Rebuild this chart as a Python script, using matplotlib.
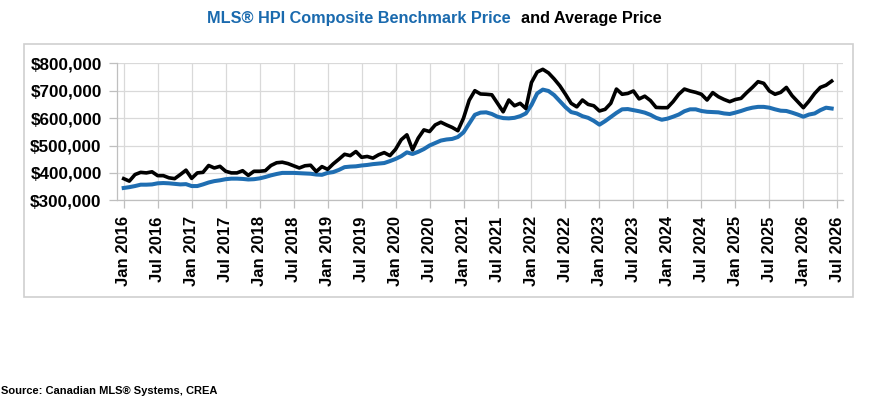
import numpy as np
import pandas as pd
import matplotlib
matplotlib.use("Agg")
import matplotlib.pyplot as plt
from matplotlib.patches import Rectangle

plt.rcParams['font.family'] = ['Liberation Sans', 'DejaVu Sans']

# Monthly values, Jan 2016 - Jun 2026
average_price = [
    379, 370, 394, 402, 400, 404, 390, 390, 382, 379, 394, 410,
    380, 400, 402, 427, 418, 424, 406, 400, 400, 408, 391, 406,
    406, 408, 427, 437, 439, 434, 426, 418, 426, 428, 405, 423,
    413, 433, 450, 468, 463, 478, 457, 460, 454, 466, 474, 463,
    486, 521, 539, 484, 527, 557, 551, 575, 585, 575, 566, 554,
    600, 665, 700, 688, 687, 685, 654, 623, 666, 645, 654, 635,
    730, 768, 778, 765, 743, 718, 687, 654, 641, 666, 650, 645,
    626, 632, 654, 706, 687, 690, 699, 670, 680, 664, 639, 638,
    638, 660, 687, 706, 699, 694, 687, 666, 693, 678, 668, 660,
    668, 672, 693, 712, 733, 727, 699, 687, 694, 712, 682, 660,
    638, 662, 690, 712, 720, 735,
]
hpi_benchmark = [
    345, 348, 352, 357, 357, 358, 362, 363, 362, 360, 358, 359,
    352, 352, 358, 365, 370, 373, 377, 379, 379, 378, 376, 377,
    380, 385, 391, 396, 400, 400, 400, 399, 398, 397, 394, 393,
    400, 403, 411, 421, 423, 424, 427, 429, 432, 434, 436, 443,
    451, 461, 475, 469, 477, 487, 500, 509, 518, 522, 524, 531,
    548, 580, 612, 620, 621, 615, 605, 600, 599, 601, 607, 617,
    648, 690, 704, 699, 684, 662, 640, 622, 617, 607, 601, 590,
    576, 589, 604, 619, 632, 633, 629, 625, 620, 612, 601, 594,
    598, 605, 613, 625, 632, 632, 626, 623, 622, 621, 617, 615,
    620, 626, 633, 638, 641, 641, 638, 632, 627, 626, 620, 613,
    605, 613, 617, 629, 638, 635,
]
average_price = np.array(average_price) * 1000
hpi_benchmark = np.array(hpi_benchmark) * 1000

tick_years = list(range(2016, 2027))
tick_labels = [f"{m} {y}" for y in tick_years for m in ("Jan", "Jul")]
y_ticks = [300000, 400000, 500000, 600000, 700000, 800000]

W, H = 878, 397
fig = plt.figure(figsize=(W / 100, H / 100), dpi=100)

# outer frame
fig.add_artist(Rectangle((24 / W, 1 - 297 / H), (853 - 24) / W, (297 - 44) / H,
                         transform=fig.transFigure, fill=False,
                         ec='#cfcfcf', lw=1.2))

ax = fig.add_axes([117 / W, 1 - 200.3 / H, (843 - 117) / W, (200.3 - 63.3) / H])

x = np.arange(len(average_price))
ax.plot(x, hpi_benchmark, color='#1f6eb2', lw=2.9, solid_joinstyle='round', zorder=3)
ax.plot(x, average_price, color='#000000', lw=2.6, solid_joinstyle='round', zorder=4)

ax.set_xlim(-1.18, 127.0)
ax.set_ylim(300000, 800000)
ax.set_yticks(y_ticks)
ax.set_yticklabels([f"${v:,.0f}" for v in y_ticks], fontsize=12.3, fontweight='bold')
ax.set_xticks(np.arange(0, 6 * len(tick_labels), 6))
ax.set_xticklabels(tick_labels, rotation=90, fontsize=12, fontweight='bold')

ax.grid(True, color='#d9d9d9', lw=0.9)
ax.set_axisbelow(True)
for s in ('top', 'right'):
    ax.spines[s].set_visible(False)
for s in ('left', 'bottom'):
    ax.spines[s].set_color('#bfbfbf')
    ax.spines[s].set_linewidth(0.9)
ax.tick_params(axis='both', color='#bfbfbf', length=6, width=0.9)
ax.tick_params(axis='y', pad=5)
ax.tick_params(axis='x', pad=5.5)

# title in two colours
fig.text(207 / W, 1 - 18 / H, "MLS® HPI Composite Benchmark Price", color='#1a6aae',
         fontsize=11.7, fontweight='bold', va='center', ha='left')
fig.text(521 / W, 1 - 18 / H, "and Average Price", color='#000000',
         fontsize=11.7, fontweight='bold', va='center', ha='left')

fig.text(1 / W, 1 - 391 / H, "Source: Canadian MLS® Systems, CREA", color='#000000',
         fontsize=8, fontweight='bold', va='center', ha='left')

fig.savefig("out.png", dpi=100)
